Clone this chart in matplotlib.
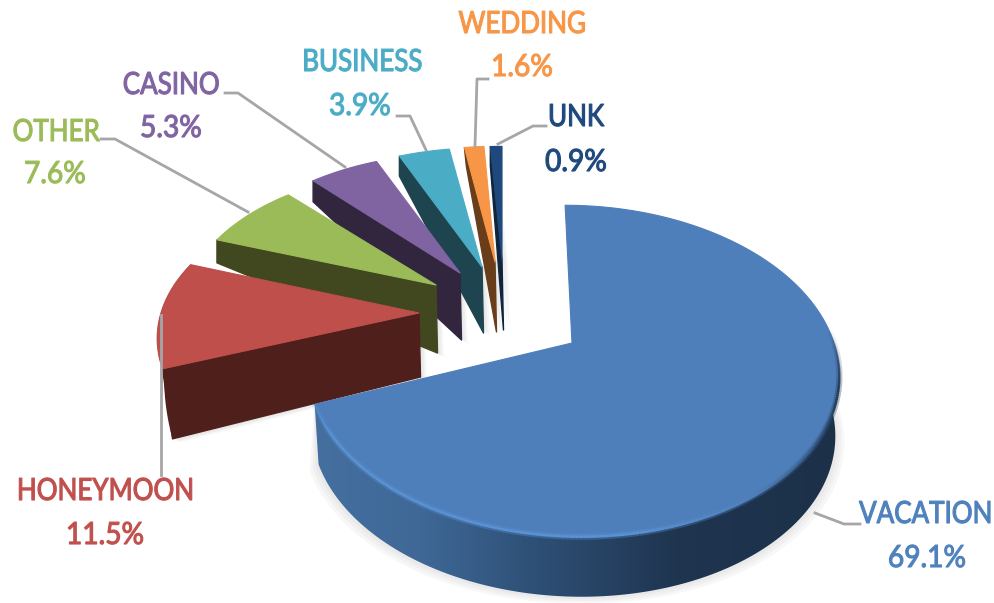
import numpy as np
import matplotlib
matplotlib.use("Agg")
import matplotlib.pyplot as plt
import matplotlib.patheffects as pe
from matplotlib.patches import Polygon
from matplotlib.collections import LineCollection
from matplotlib.colors import LinearSegmentedColormap, to_rgb
from matplotlib.transforms import Affine2D

categories = ["VACATION", "HONEYMOON", "OTHER", "CASINO", "BUSINESS", "WEDDING", "UNK"]
shares = [69.1, 11.5, 7.6, 5.3, 3.9, 1.6, 0.9]

top_colors = ["#4f7fbb", "#be4f4b", "#9bbb59", "#8064a2", "#4bacc6", "#f79646", "#1f497d"]
wall_colors = ["#2c4a6e", "#4f1f1b", "#41481f", "#32263f", "#1e454f", "#693c1a", "#10243c"]
label_colors = ["#4f81bd", "#c0504d", "#9bbb59", "#8064a2", "#4bacc6", "#f79646", "#1f497d"]

# layout of the exploded slices, in pixels of the picture
apex = [(572, 343), (419, 313), (436, 285), (460, 273), (482, 267), (495, 262), (502, 260)]
scale_x = [1.0, 0.985, 0.945, 0.94, 0.93, 0.87, 0.92]
scale_y = [1.0, 0.91, 0.85, 0.87, 0.865, 0.84, 0.825]
shear = [0.05, 0, 0, 0, 0, 0, 0]
near_depth = [60, 64, 68, 67, 66, 70, 70]
far_depth = [60, 70, 23, 21, 20, 19, 19]
far_shift = [0, 10, 0, 0, 0, 2, 0]

# VACATION is anchored on its right end, it sits against the picture edge
label_xy = [(992, 514), (105, 491), (56, 132), (171, 85), (362, 62), (522, 24), (576, 117)]
label_ha = ["right", "center", "center", "center", "center", "center", "center"]
value_xy = [(927, 558), (105, 535), (55, 174), (171, 128), (360, 106), (522, 67), (576, 162)]
leaders = [
    [(815, 513), (844, 524), (860, 524)],
    [(161, 315), (161, 475)],
    [(101, 139), (115, 139), (248, 212)],
    [(225, 93), (238, 93), (345, 167)],
    [(397, 116), (410, 116), (426, 150)],
    [(488, 79), (477, 79), (475, 146)],
    [(546, 126), (533, 126), (498, 144)],
]

A, B, K = 262, 161, 0.169


def project(theta, i):
    t = np.radians(theta)
    X, Z = np.sin(t), np.cos(t)
    w = 1 + K * Z
    dx = A * X / w * scale_x[i]
    dy = -B * Z / w * scale_y[i]
    return apex[i][0] + dx + shear[i] * dy, apex[i][1] + dy


def arc(a0, a1, i, n=120):
    x, y = project(np.linspace(a0, a1, n), i)
    return np.column_stack([x, y])


class Squeeze(pe.AbstractPathEffect):
    # the labels in the picture are narrower than any installed font
    def __init__(self, cx, sx):
        super().__init__()
        self.cx, self.sx = cx, sx

    def draw_path(self, renderer, gc, tpath, affine, rgbFace=None):
        squeezed = affine + Affine2D().translate(-self.cx, 0).scale(self.sx, 1).translate(self.cx, 0)
        gc.set_linewidth(0.8)
        renderer.draw_path(gc, tpath, squeezed, rgbFace)


plt.rcParams["font.family"] = ["Lato", "DejaVu Sans"]
fig = plt.figure(figsize=(9.95, 6.03), dpi=100)
ax = fig.add_axes([0, 0, 1, 1])
ax.axis("off")
ax.set_xlim(0, 995)
ax.set_ylim(603, 0)

edges = np.concatenate([[0], np.cumsum(shares)]) / sum(shares) * 360

# small slices, far to near
for i in range(len(shares) - 1, 0, -1):
    a0, a1 = edges[i], edges[i + 1]
    corner = np.array(project(a0, i))
    tip = np.array(apex[i], dtype=float)
    tip_low = tip + (1.5, near_depth[i])
    corner_low = corner + (far_shift[i], far_depth[i])
    wall = [corner, tip, tip_low, corner_low]
    z = 10 - i
    if i == 1:
        r = arc(a0, a1, i, 40)
        rim_low = r + np.column_stack([np.linspace(far_shift[i], 0, 40), np.linspace(far_depth[i], 0, 40)])
        ax.add_patch(Polygon(np.vstack([rim_low, r[::-1]]), fc=wall_colors[i], ec="none", zorder=z))
    # soft shadow of the wall
    for off in (2, 4, 6):
        shifted = np.array(wall) + (off, off * 0.6)
        ax.add_patch(Polygon(shifted, fc="#808080", ec="none", alpha=0.07, zorder=0.5))
    ax.add_patch(Polygon(wall, fc=wall_colors[i], ec=wall_colors[i], lw=1.0, joinstyle="round", zorder=z))
    top = np.vstack([tip, arc(a0, a1, i, 60)])
    ax.add_patch(Polygon(top, fc=top_colors[i], ec=top_colors[i], lw=0.8, joinstyle="round", zorder=z + 0.5))

# big slice with its shaded wall
a0, a1 = edges[0], edges[1]
rim = arc(60, a1, 0, 200)
low = rim * (0.985, 1) + (0.015 * apex[0][0], near_depth[0])
low_path = np.vstack([rim, low[::-1]])

for off in (3, 6, 9):
    spread = low + np.column_stack([np.sign(low[:, 0] - 572) * off, np.full(len(low), off * 0.7)])
    ax.add_patch(Polygon(np.vstack([rim, spread[::-1]]), fc="#808080", ec="none", alpha=0.06, zorder=0.4))

wall_patch = Polygon(low_path, fc="none", ec="none", zorder=12, transform=ax.transData)
ax.add_patch(wall_patch)
wall_cmap = LinearSegmentedColormap.from_list(
    "wall", [(0, "#446f9f"), (0.2, "#3f6896"), (0.4, "#2f5178"), (0.68, "#1f3550"), (1, "#1c3048")]
)
im = ax.imshow(
    np.linspace(0, 1, 256)[None, :], extent=[315, 846, 610, 360], aspect="auto",
    cmap=wall_cmap, zorder=12, interpolation="bilinear",
)
im.set_clip_path(wall_patch)
ax.set_xlim(0, 995)
ax.set_ylim(603, 0)

top = np.vstack([apex[0], arc(a0, a1, 0, 300)])
ax.add_patch(Polygon(top, fc=top_colors[0], ec=top_colors[0], lw=0.8, joinstyle="round", zorder=13))

# lit bevel along the front of the rim, soft band first and then the thin line
theta = np.linspace(85, a1, 240)
bevel = arc(85, a1, 0, 240)
segs = np.stack([bevel[:-1], bevel[1:]], axis=1)
light, dark, base = np.array(to_rgb("#5a92d4")), np.array(to_rgb("#223a58")), np.array(to_rgb(top_colors[0]))
seg_colors = []
for t in theta[:-1]:
    if t > 170:
        c, alpha = light, min(1.0, (a1 - t) / 15 + 0.2)
    elif t > 145:
        f = (170 - t) / 25
        c, alpha = light * (1 - f) + base * f, 1.0
    else:
        f = np.clip((145 - t) / 35, 0, 1)
        c, alpha = base * (1 - f) + dark * f, min(1.0, max(0.0, (t - 85) / 20))
    seg_colors.append((*c, alpha))
soft = [(r, g, b, a * 0.35) for r, g, b, a in seg_colors]
ax.add_collection(LineCollection(segs, colors=soft, linewidths=4.5, zorder=14, capstyle="butt"))
ax.add_collection(LineCollection(segs, colors=seg_colors, linewidths=1.8, zorder=14.1, capstyle="butt"))

# labels and leader lines
for i, name in enumerate(categories):
    xs, ys = zip(*leaders[i])
    ax.plot(xs, ys, color="#a6a6a6", lw=2.0, zorder=20, solid_joinstyle="round")
    t = ax.text(*label_xy[i], name, color=label_colors[i], fontsize=22, ha=label_ha[i], va="center", zorder=21)
    t.set_path_effects([Squeeze(ax.transData.transform(label_xy[i])[0], 0.85)])
    v = ax.text(*value_xy[i], f"{shares[i]}%", color=label_colors[i], fontsize=22, ha="center", va="center", zorder=21)
    v.set_path_effects([Squeeze(ax.transData.transform(value_xy[i])[0], 0.92)])

fig.savefig("out.png", dpi=100, facecolor="white")
